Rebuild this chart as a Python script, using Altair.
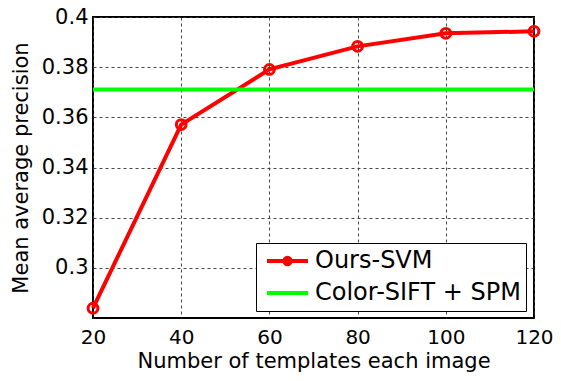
import altair as alt
import pandas as pd

templates = [20, 40, 60, 80, 100, 120]
ours_svm = [0.2839, 0.3571, 0.3791, 0.3883, 0.3935, 0.3943]
baseline_x = [20, 120]
baseline_val = [0.3711, 0.3711]
series_names = ["Ours-SVM", "Color-SIFT + SPM"]
x_ticks = [20, 40, 60, 80, 100, 120]
y_ticks = [0.30, 0.32, 0.34, 0.36, 0.38, 0.40]

df_ours = pd.DataFrame({"x": templates, "y": ours_svm, "series": series_names[0]})
df_base = pd.DataFrame({"x": baseline_x, "y": baseline_val, "series": series_names[1]})
df_lines = pd.concat([df_ours, df_base], ignore_index=True)

FONT = "DejaVu Sans"

# legend symbols (unit coords): line with dot, plain line
sym_paths = [
    "M-0.822,0L1,0M-0.051,0A0.14,0.14 0 1,1 0.229,0A0.14,0.14 0 1,1 -0.051,0",
    "M-0.822,0L1,0",
]

xenc = alt.X("x:Q", scale=alt.Scale(domain=[20, 120], nice=False),
             axis=alt.Axis(values=x_ticks, title="Number of templates each image",
                           grid=True, gridDash=[3, 3], gridColor="#333", gridOpacity=0.9,
                           ticks=False, labelPadding=9, titlePadding=3, labelFlush=False,
                           labelFontSize=20, domain=False))
yenc = alt.Y("y:Q", scale=alt.Scale(domain=[0.28, 0.40], nice=False, zero=False),
             axis=alt.Axis(values=y_ticks, format=".2~f", title="Mean average precision",
                           grid=True, gridDash=[3, 3], gridColor="#333", gridOpacity=0.9,
                           ticks=False, labelPadding=5, titlePadding=10, labelFlush=False,
                           domain=False))

legend = alt.Legend(title=None, orient="none", legendX=163, legendY=226,
                    symbolSize=2025, symbolStrokeWidth=4, clipHeight=26,
                    fillColor="white", strokeColor="black", padding=5, rowPadding=6,
                    labelFontSize=24, labelFont=FONT, labelColor="black",
                    labelOffset=5, labelLimit=400, cornerRadius=0)

color = alt.Color("series:N",
                  scale=alt.Scale(domain=series_names, range=["#ff0000", "#00ff00"]),
                  legend=legend)
shape = alt.Shape("series:N", scale=alt.Scale(domain=series_names, range=sym_paths),
                  legend=legend)

lines = alt.Chart(df_lines).mark_line(strokeWidth=4).encode(x=xenc, y=yenc, color=color)
points = alt.Chart(df_ours).mark_point(shape="circle", filled=False, size=95,
                                        strokeWidth=3, color="#ff0000", opacity=1).encode(
    x="x:Q", y="y:Q")
legend_layer = alt.Chart(df_lines).transform_filter("datum.x < 0").mark_point(
    filled=False, opacity=1, strokeWidth=4).encode(
    x="x:Q", y="y:Q", color=color, shape=shape)

chart = alt.layer(lines, points, legend_layer).properties(
    width=441, height=301,
    autosize=alt.AutoSizeParams(type="none"),
    padding={"left": 85, "top": 9, "right": 19, "bottom": 55},
).configure_view(stroke="black", strokeWidth=2).configure_axis(
    labelFont=FONT, titleFont=FONT, labelFontSize=21, titleFontSize=21,
    labelColor="black", titleColor="black", titleFontWeight="normal",
)

chart.save("out.html", embed_options={"renderer": "svg", "actions": False})
